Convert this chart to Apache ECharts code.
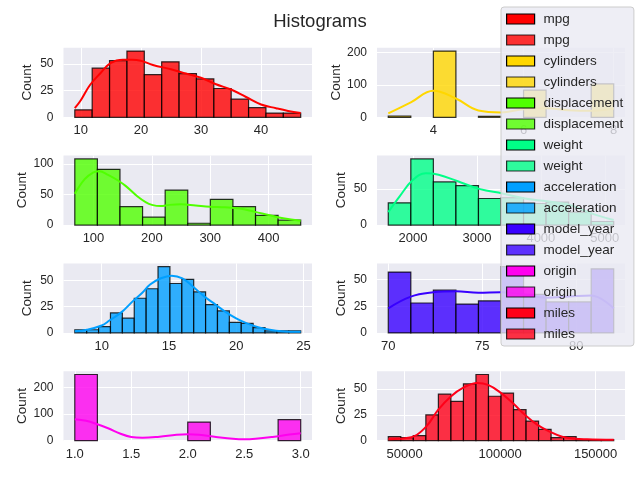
<!DOCTYPE html>
<html><head><meta charset="utf-8">
<script src="https://cdn.jsdelivr.net/npm/echarts@6/dist/echarts.min.js"></script>
<style>html,body{margin:0;padding:0;background:#fff}#c{width:640px;height:480px}</style>
</head><body><div id="c"></div>
<script>
// ---- data ----
const variables = ['mpg','cylinders','displacement','weight','acceleration','model_year','origin','miles'];
const colors = ['#FF0000','#FFD700','#50FF00','#00FF87','#009FFF','#3800FF','#FF00EF','#FF0018'];

const mpgRange = [9, 46.6];
const mpgCounts = [7,46,53,62,40,52,41,36,27,17,9,4,4];
const mpgKde = [[9,8.5],[10,16],[11.5,30],[13.3,41.5],[15,51],[17,54],[18.5,54],[20,53],[22,49],[25,45],[27.5,41],[30,37],[32.5,31],[35,26],[37.5,19],[40,12],[42.5,8.5],[44.5,6],[46.6,4]];
const mpgXTicks = [10,20,30,40];
const mpgYTicks = [0,25,50];

const cylRange = [3, 8];
const cylCounts = [4,0,204,0,3,0,84,0,0,103];
const cylKde = [[3,12],[3.5,46],[4,82],[4.5,58],[5,21],[5.5,15],[6,25],[6.5,28],[7,22],[7.5,20],[8,27]];
const cylXTicks = [4,6,8];
const cylYTicks = [0,100,200];

const dispRange = [68, 455];
const dispCounts = [108,91,30,13,57,3,42,30,16,8];
const dispKde = [[68,51],[85,75],[100,86],[110,88],[125,82],[140,74],[155,64],[175,47],[190,37],[200,33],[215,31],[230,33],[250,34],[275,32],[300,30],[325,29],[350,27],[375,22],[400,16.5],[425,11],[455,7]];
const dispXTicks = [100,200,300,400];
const dispYTicks = [0,50,100];

const weightRange = [1613, 5140];
const weightCounts = [31,92,60,55,37,38,30,32,18,5];
const weightKde = [[1613,18],[1800,41],[2000,63],[2200,72],[2400,70],[2700,61],[3050,50],[3400,44],[3750,37],[4100,33],[4450,28],[4800,16],[5140,7]];
const weightXTicks = [2000,3000,4000,5000];
const weightYTicks = [0,50];

const accRange = [8, 24.8];
const accCounts = [3,3,6,19,14,33,42,63,47,51,39,27,21,10,9,5,2,2,2];
const accKde = [[8,1.5],[8.9,3],[10,7],[10.6,12],[11.5,20],[12.3,30],[13,38],[13.6,46],[14.4,52],[15.2,54.5],[16,52],[16.8,44],[17.6,35],[18.5,26.6],[19.2,20],[20,13.8],[20.8,9],[21.7,5.2],[22.5,3],[23.4,1.6],[24.8,1]];
const accXTicks = [10,15,20,25];
const accYTicks = [0,25,50];

const yearRange = [70, 82];
const yearCounts = [57,28,40,27,30,62,36,29,29,60];
const yearKde = [[70,23],[71.2,34],[72.4,38],[73.6,39],[74.8,37.5],[76,38],[77.2,36],[78.4,33],[79.6,34],[80.8,35],[82,23]];
const yearXTicks = [70,75,80];
const yearYTicks = [0,25,50];

const originRange = [1, 3];
const originCounts = [249,0,0,0,0,70,0,0,0,79];
const originKde = [[1.0,81],[1.1,75],[1.2,62],[1.3,46],[1.4,27],[1.5,14],[1.6,11],[1.75,15],[1.9,22],[2.0,24],[2.1,22],[2.25,14],[2.4,7],[2.5,5],[2.6,7],[2.75,14],[2.9,23],[3.0,28]];
const originXTicks = [1.0,1.5,2.0,2.5,3.0];
const originYTicks = [0,100,200];

const milesRange = [41400, 159500];
const milesCounts = [4,3,5,25,45,38,55,64,43,46,30,19,11,3,4,1,1,1];
const milesKde = [[41400,1.4],[53470,3.3],[61230,13.6],[67600,30],[74160,42.8],[80520,51],[87970,55.8],[93660,54],[100030,46.7],[106600,36.4],[112960,25],[119530,15.3],[125900,8.8],[132460,3.9],[138980,2],[145550,1.4],[159500,0.8]];
const milesXTicks = [50000,100000,150000];
const milesYTicks = [0,25,50];

const panels = [
  {range: mpgRange, counts: mpgCounts, kde: mpgKde, xt: mpgXTicks, yt: mpgYTicks},
  {range: cylRange, counts: cylCounts, kde: cylKde, xt: cylXTicks, yt: cylYTicks},
  {range: dispRange, counts: dispCounts, kde: dispKde, xt: dispXTicks, yt: dispYTicks},
  {range: weightRange, counts: weightCounts, kde: weightKde, xt: weightXTicks, yt: weightYTicks},
  {range: accRange, counts: accCounts, kde: accKde, xt: accXTicks, yt: accYTicks},
  {range: yearRange, counts: yearCounts, kde: yearKde, xt: yearXTicks, yt: yearYTicks},
  {range: originRange, counts: originCounts, kde: originKde, xt: originXTicks, yt: originYTicks, dec: 1},
  {range: milesRange, counts: milesCounts, kde: milesKde, xt: milesXTicks, yt: milesYTicks}
];

// ---- layout ----
const FONT = 'Liberation Sans, Arial, sans-serif';
const TXT = '#262626';
const colLeft = [63.5, 377];
const colWidth = [248.5, 248];
const rowBottom0 = 117.3, rowStep = 107.8, rowH = 69.5;

function rgba(hex, a) {
  const r = parseInt(hex.slice(1,3),16), g = parseInt(hex.slice(3,5),16), b = parseInt(hex.slice(5,7),16);
  return 'rgba(' + r + ',' + g + ',' + b + ',' + a + ')';
}

const grids = [], xAxes = [], yAxes = [], series = [], legendData = [];
panels.forEach((p, i) => {
  const row = Math.floor(i / 2), col = i % 2;
  grids.push({left: colLeft[col], width: colWidth[col], top: rowBottom0 + row * rowStep - rowH, height: rowH,
    show: true, backgroundColor: '#EAEAF2', borderWidth: 0, containLabel: false, outerBoundsMode: 'none'});
  const span = p.range[1] - p.range[0];
  const ymax = Math.max.apply(null, p.counts) * 1.05;
  const yDigits = String(p.yt[p.yt.length - 1]).length;
  xAxes.push({type: 'value', gridIndex: i, min: p.range[0] - 0.05 * span, max: p.range[1] + 0.05 * span,
    axisLine: {show: false}, axisTick: {show: false, customValues: p.xt},
    axisLabel: {customValues: p.xt, color: TXT, fontSize: 13, fontFamily: FONT, margin: 7,
      formatter: v => p.dec ? v.toFixed(p.dec) : String(v)},
    splitLine: {show: true, lineStyle: {color: '#FFFFFF', width: 1}}});
  yAxes.push({type: 'value', gridIndex: i, min: 0, max: ymax,
    name: 'Count', nameLocation: 'middle', nameRotate: 90, nameGap: yDigits >= 3 ? 33 : 29,
    nameTextStyle: {color: TXT, fontSize: 13.5, fontFamily: FONT},
    axisLine: {show: false}, axisTick: {show: false, customValues: p.yt},
    axisLabel: {customValues: p.yt, color: TXT, fontSize: 12, fontFamily: FONT, margin: 10},
    splitLine: {show: true, lineStyle: {color: '#FFFFFF', width: 1}}});
  const nb = p.counts.length, bw = span / nb;
  const bins = p.counts.map((c, k) => [p.range[0] + k * bw, p.range[0] + (k + 1) * bw, c]).filter(d => d[2] > 0);
  const color = colors[i];
  const name = variables[i];
  series.push({type: 'custom', name: name + ' ', xAxisIndex: i, yAxisIndex: i, z: 2,
    encode: {x: [0, 1], y: 2}, data: bins,
    renderItem: function (params, api) {
      const a = api.coord([api.value(0), api.value(2)]);
      const b = api.coord([api.value(1), 0]);
      return {type: 'rect', shape: {x: a[0], y: a[1], width: b[0] - a[0], height: b[1] - a[1]},
        style: {fill: color, stroke: '#000', lineWidth: 1.2, opacity: 0.8}};
    }});
  series.push({type: 'line', name: name, xAxisIndex: i, yAxisIndex: i, z: 3, data: p.kde,
    smooth: 0.4, showSymbol: false, symbol: 'none', lineStyle: {color: color, width: 2}, itemStyle: {color: color}});
  legendData.push({name: name, itemStyle: {color: color, borderColor: '#000', borderWidth: 1.2, opacity: 1}});
  legendData.push({name: name + ' ', itemStyle: {color: rgba(color, 0.8), borderColor: 'rgba(0,0,0,0.8)', borderWidth: 1.2, opacity: 1}});
});

const chart = echarts.init(document.getElementById('c'), null, {renderer: 'canvas'});
chart.setOption({
  animation: false,
  backgroundColor: '#FFFFFF',
  title: {text: 'Histograms', left: 'center', top: 7,
    textStyle: {color: TXT, fontSize: 18.5, fontWeight: 'normal', fontFamily: FONT}},
  grid: grids, xAxis: xAxes, yAxis: yAxes, series: series,
  legend: {orient: 'vertical', left: 501, top: 7, icon: 'rect', itemWidth: 28, itemHeight: 10, itemGap: 7,
    padding: [5, 7, 5, 5], backgroundColor: 'rgba(234,234,242,0.8)', borderColor: '#CCCCCC', borderWidth: 1, borderRadius: 3,
    textStyle: {color: TXT, fontSize: 13.5, fontFamily: FONT, padding: [0, 0, 0, 4]},
    selectedMode: false, data: legendData, z: 10}
});
</script></body></html>
